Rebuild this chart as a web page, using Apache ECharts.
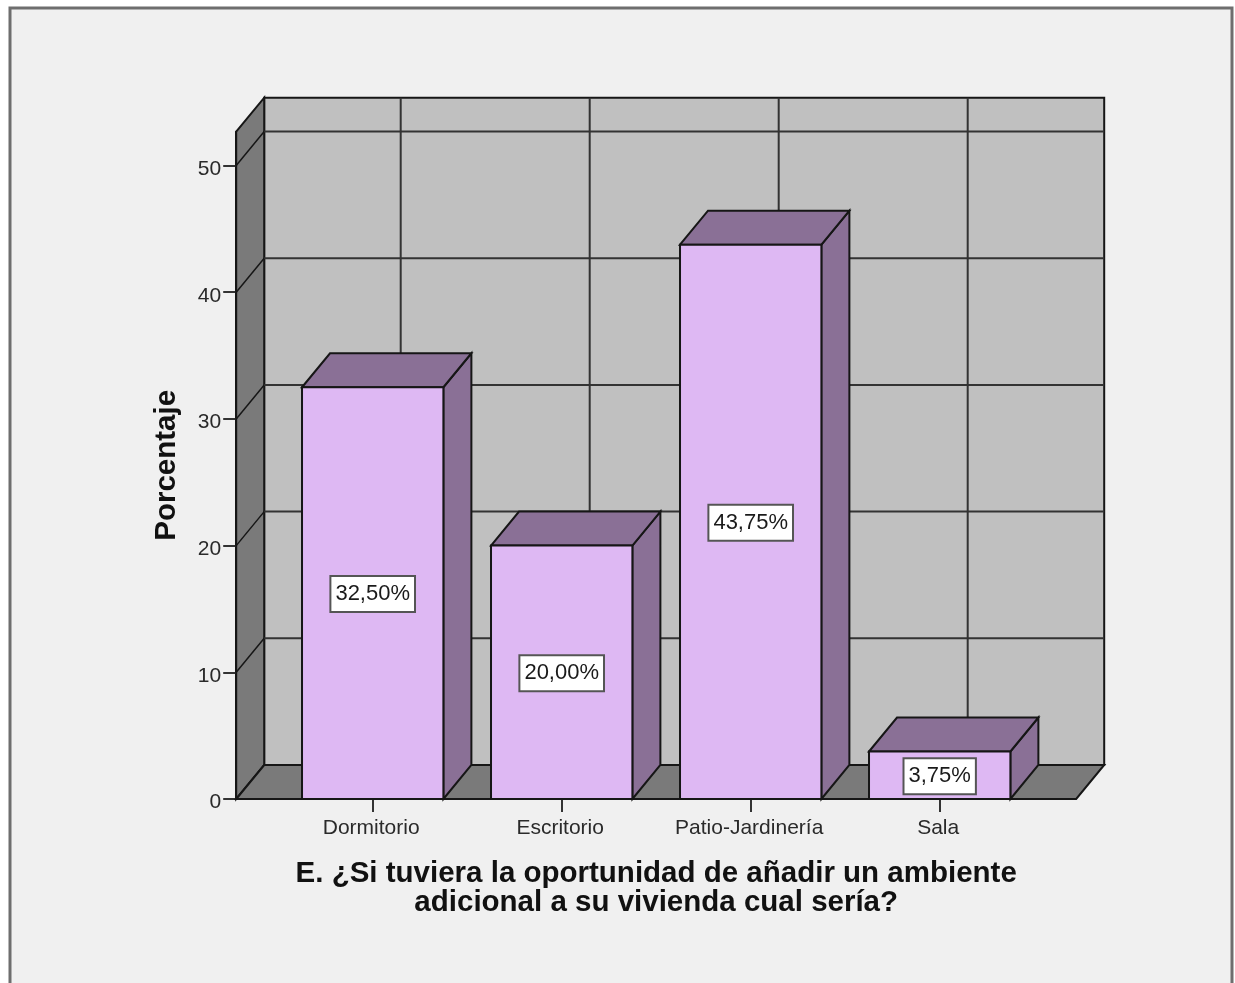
<!DOCTYPE html>
<html>
<head>
<meta charset="utf-8">
<style>
  html, body { margin: 0; padding: 0; background: #ffffff; }
  #chart { width: 1235px; height: 983px; }
</style>
<script src="https://cdn.jsdelivr.net/npm/echarts@6/dist/echarts.min.js"></script>
</head>
<body>
<div id="chart"></div>
<script>
// Answers to the survey question, as percentages of respondents
const categories = ['Dormitorio', 'Escritorio', 'Patio-Jardinería', 'Sala'];
const percentages = [32.5, 20, 43.75, 3.75];
const yTicks = [0, 10, 20, 30, 40, 50];
const yTop = 52.67;
const xTitle = 'E. ¿Si tuviera la oportunidad de añadir un ambiente\nadicional a su vivienda cual sería?';
const yTitle = 'Porcentaje';

// Pseudo-3D projection: how far the back wall sits from the front plane
const DEPTH_X = 28;
const DEPTH_Y = -34;
const SIDE_PAD = 42;
const BAR_RATIO = 0.748;

const LINE = '#161616';
const GRID_LINE = '#333333';
const WALL = '#c0c0c0';
const SHADE = '#7a7a7a';
const BAR_FRONT = '#deb8f3';
const BAR_SHADE = '#8a7096';

function poly(points, fill, z2) {
  return {
    type: 'polygon',
    z2: z2 || 0,
    shape: { points: points },
    style: { fill: fill, stroke: LINE, lineWidth: 2, lineJoin: 'miter' }
  };
}

function segment(x1, y1, x2, y2, color, width) {
  return {
    type: 'line',
    z2: 1,
    shape: { x1: x1, y1: y1, x2: x2, y2: y2 },
    style: { stroke: color, lineWidth: width, fill: null }
  };
}

// Back wall, side wall, floor and their gridlines
function renderFrame(params, api) {
  const sys = params.coordSys;
  const left = sys.x - SIDE_PAD;
  const right = sys.x + sys.width + SIDE_PAD;
  const bottom = api.coord([0, 0])[1];
  const top = api.coord([0, yTop])[1];
  const children = [
    poly([[left + DEPTH_X, top + DEPTH_Y], [right + DEPTH_X, top + DEPTH_Y],
          [right + DEPTH_X, bottom + DEPTH_Y], [left + DEPTH_X, bottom + DEPTH_Y]], WALL),
    poly([[left, top], [left + DEPTH_X, top + DEPTH_Y],
          [left + DEPTH_X, bottom + DEPTH_Y], [left, bottom]], SHADE),
    poly([[left, bottom], [left + DEPTH_X, bottom + DEPTH_Y],
          [right + DEPTH_X, bottom + DEPTH_Y], [right, bottom]], SHADE)
  ];
  yTicks.forEach(function (v) {
    if (v === 0) return;
    const y = api.coord([0, v])[1];
    children.push(segment(left, y, left + DEPTH_X, y + DEPTH_Y, LINE, 1.5));
    children.push(segment(left + DEPTH_X, y + DEPTH_Y, right + DEPTH_X, y + DEPTH_Y, GRID_LINE, 2));
  });
  categories.forEach(function (c, i) {
    const x = api.coord([i, 0])[0] + DEPTH_X;
    children.push(segment(x, top + DEPTH_Y, x, bottom + DEPTH_Y, GRID_LINE, 2));
  });
  return { type: 'group', children: children };
}

// One extruded bar with its boxed value label
function renderBar(params, api) {
  const idx = api.value(0);
  const val = api.value(1);
  const base = api.coord([idx, 0]);
  const head = api.coord([idx, val]);
  const half = api.size([1, 0])[0] * BAR_RATIO / 2;
  const x0 = base[0] - half;
  const x1 = base[0] + half;
  const yB = base[1];
  const yT = head[1];
  const text = val.toFixed(2).replace('.', ',') + '%';
  return {
    type: 'group',
    children: [
      poly([[x1, yB], [x1 + DEPTH_X, yB + DEPTH_Y], [x1 + DEPTH_X, yT + DEPTH_Y], [x1, yT]], BAR_SHADE, 2),
      poly([[x0, yT], [x0 + DEPTH_X, yT + DEPTH_Y], [x1 + DEPTH_X, yT + DEPTH_Y], [x1, yT]], BAR_SHADE, 2),
      poly([[x0, yT], [x1, yT], [x1, yB], [x0, yB]], BAR_FRONT, 3),
      {
        type: 'text',
        z2: 4,
        style: {
          text: text,
          x: base[0],
          y: (yT + yB) / 2 + 1,
          align: 'center',
          verticalAlign: 'middle',
          fontFamily: '"Liberation Sans", Arial, sans-serif',
          fontSize: 22,
          fill: '#1a1a1a',
          backgroundColor: '#ffffff',
          borderColor: '#555555',
          borderWidth: 2,
          padding: [7, 4, 5, 4]
        }
      }
    ]
  };
}

const chart = echarts.init(document.getElementById('chart'), null, { renderer: 'canvas' });

chart.setOption({
  animation: false,
  backgroundColor: '#ffffff',
  graphic: [{
    type: 'rect',
    z: -10,
    silent: true,
    shape: { x: 10, y: 8, width: 1222, height: 1010 },
    style: { fill: '#f0f0f0', stroke: '#6e6e6e', lineWidth: 3 }
  }],
  grid: { left: 278.2, top: 131.7, width: 756, height: 667.3, containLabel: false },
  xAxis: {
    type: 'category',
    data: categories,
    boundaryGap: true,
    name: xTitle,
    nameLocation: 'middle',
    nameGap: 60,
    nameTextStyle: {
      fontFamily: '"Liberation Sans", Arial, sans-serif',
      fontWeight: 'bold',
      fontSize: 29.5,
      lineHeight: 29,
      color: '#111111'
    },
    axisLine: { show: false },
    axisTick: { show: true, alignWithLabel: true, length: 13, lineStyle: { color: '#333333', width: 2 } },
    axisLabel: {
      interval: 0,
      margin: 19,
      padding: [0, 3, 0, 0],
      fontFamily: '"Liberation Sans", Arial, sans-serif',
      fontSize: 21,
      color: '#2a2a2a'
    },
    splitLine: { show: false }
  },
  yAxis: {
    type: 'value',
    min: 0,
    max: yTop,
    offset: SIDE_PAD,
    name: yTitle,
    nameLocation: 'middle',
    nameGap: 54,
    nameRotate: 90,
    nameTextStyle: {
      fontFamily: '"Liberation Sans", Arial, sans-serif',
      fontWeight: 'bold',
      fontSize: 29.5,
      color: '#111111'
    },
    axisLine: { show: true, lineStyle: { color: LINE, width: 2 } },
    axisTick: { show: true, length: 13, customValues: yTicks, lineStyle: { color: '#333333', width: 2 } },
    axisLabel: {
      margin: 15,
      verticalAlign: 'top',
      lineHeight: 7,
      customValues: yTicks,
      fontFamily: '"Liberation Sans", Arial, sans-serif',
      fontSize: 21,
      color: '#2a2a2a'
    },
    splitLine: { show: false }
  },
  series: [
    {
      name: 'Marco',
      type: 'custom',
      z: 1,
      silent: true,
      renderItem: renderFrame,
      data: [[0, 0]],
      encode: { x: 0, y: 1 }
    },
    {
      name: 'Porcentaje',
      type: 'custom',
      z: 3,
      silent: true,
      renderItem: renderBar,
      data: percentages.map(function (v, i) { return [i, v]; }),
      encode: { x: 0, y: 1 }
    }
  ]
});
</script>
</body>
</html>
